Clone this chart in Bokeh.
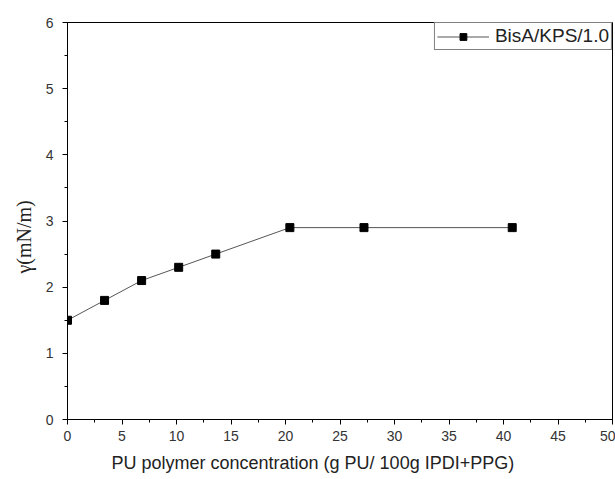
from bokeh.plotting import figure
from bokeh.models import ColumnDataSource, Range1d, SingleIntervalTicker, Legend, LegendItem, Title
from bokeh.embed import file_html
from bokeh.resources import INLINE

conc = [0, 3.4, 6.8, 10.2, 13.6, 20.4, 27.2, 40.8]
gamma = [1.5, 1.8, 2.1, 2.3, 2.5, 2.9, 2.9, 2.9]
series_name = "BisA/KPS/1.0"
x_label = "PU polymer concentration (g PU/ 100g IPDI+PPG)"
y_label = "γ(mN/m)"

src = ColumnDataSource(dict(x=conc, y=gamma))

p = figure(width=615, height=479, output_backend="svg", toolbar_location=None,
           x_range=Range1d(0, 50), y_range=Range1d(0, 6),
           min_border_left=67, min_border_right=3, min_border_top=22, min_border_bottom=60)
p.background_fill_color = "white"
p.border_fill_color = "white"
p.outline_line_color = "black"
p.outline_line_width = 1
p.grid.visible = False

r_line = p.line("x", "y", source=src, line_color="#555555", line_width=1)
r_pts = p.scatter("x", "y", source=src, marker="square", size=8, fill_color="black", line_color="black")

for ax in (p.xaxis[0], p.yaxis[0]):
    ax.axis_line_color = "black"
    ax.major_tick_line_color = "black"
    ax.minor_tick_line_color = "black"
    ax.major_tick_out = 5
    ax.major_tick_in = 0
    ax.minor_tick_out = 3
    ax.minor_tick_in = 0
    ax.major_label_text_font = "Liberation Sans"
    ax.major_label_text_font_size = "14px"
    ax.major_label_text_color = "#333333"

p.xaxis[0].ticker = SingleIntervalTicker(interval=5, num_minor_ticks=2)
p.yaxis[0].ticker = SingleIntervalTicker(interval=1, num_minor_ticks=2)
p.xaxis[0].major_label_standoff = 6
p.yaxis[0].major_label_standoff = 9

xt = Title(text=x_label, align="left", offset=44, standoff=14,
           text_font="Liberation Sans", text_font_size="18px",
           text_font_style="normal", text_color="#222222")
p.add_layout(xt, "below")
yt = Title(text=y_label, align="left", offset=146, standoff=16,
           text_font="Liberation Serif", text_font_size="20px",
           text_font_style="normal", text_color="#222222")
p.add_layout(yt, "left")

legend = Legend(items=[LegendItem(label=series_name, renderers=[r_line, r_pts])],
                location="top_right", margin=0, padding=2, spacing=0,
                border_line_color="black", border_line_width=1,
                label_text_font="Liberation Sans", label_text_font_size="19px",
                label_text_color="#222222", glyph_width=52, glyph_height=17,
                label_height=17, label_standoff=6, background_fill_alpha=1)
p.add_layout(legend)

open("out.html", "w").write(file_html(p, INLINE))
